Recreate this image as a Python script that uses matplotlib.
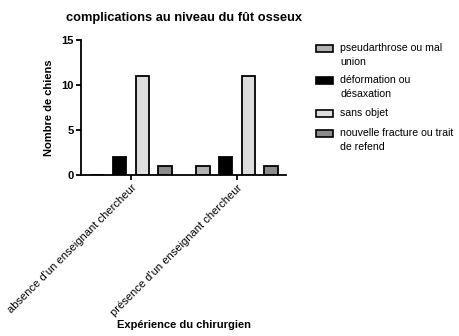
import numpy as np
import matplotlib
matplotlib.use('Agg')
import matplotlib.pyplot as plt
from matplotlib.patches import Rectangle

plt.rcParams['font.family'] = ['Liberation Sans', 'DejaVu Sans']

groups = ["absence d'un enseignant chercheur", "présence d'un enseignant chercheur"]
series = ['pseudarthrose ou mal\nunion', 'déformation ou\ndésaxation', 'sans objet',
          'nouvelle fracture ou trait\nde refend']
values = [
    [0, 1],   # pseudarthrose ou mal union
    [2, 2],   # déformation ou désaxation
    [11, 11], # sans objet
    [1, 1],   # nouvelle fracture ou trait de refend
]
colors = ['#b2b2b2', '#000000', '#dddddd', '#8c8c8c']

W, H = 460, 336


def fx(px):
    return px / W


def fy(py):
    return 1 - py / H


fig = plt.figure(figsize=(4.6, 3.36), dpi=100)
ax = fig.add_axes([fx(81.5), fy(175), (286.5 - 81.5) / W, (175 - 39.5) / H])

x = np.arange(len(groups))
step = 0.214
width = 0.125
for i, vals in enumerate(values):
    off = (i - 1.5) * step
    ax.bar(x + off, vals, width, color=colors[i], edgecolor='black', linewidth=1.3)

ax.set_xlim(-0.467, 1.467)
ax.set_ylim(0, 15)
ax.set_yticks([0, 5, 10, 15])
ax.set_xticks(x)
ax.set_xticklabels(groups, rotation=45, ha='right', rotation_mode='anchor', fontsize=8)
for lab in ax.get_yticklabels():
    lab.set_fontweight('bold')
    lab.set_fontsize(8)
ax.spines['top'].set_visible(False)
ax.spines['right'].set_visible(False)
ax.spines['left'].set_linewidth(1.3)
ax.spines['bottom'].set_linewidth(1.3)
ax.tick_params(width=1.3, length=3.6, pad=2)

ax.set_ylabel('Nombre de chiens', fontweight='bold', fontsize=8)
ax.yaxis.set_label_coords((54 - 81.5) / 205, 0.5)

fig.text(fx(183.7), fy(18), 'complications au niveau du fût osseux', fontweight='bold',
         fontsize=9.3, ha='center', va='center')
fig.text(fx(183.6), fy(325), 'Expérience du chirurgien', fontweight='bold', fontsize=8,
         ha='center', va='center')

# legend, patch beside the first line of each label
first_lines = [48.5, 80.5, 113.5, 133.5]
for i, name in enumerate(series):
    yc = first_lines[i]
    fig.add_artist(Rectangle((fx(316), fy(yc + 3.5)), 17 / W, 7 / H, transform=fig.transFigure,
                             facecolor=colors[i], edgecolor='black', linewidth=1.2))
    fig.text(fx(340.5), fy(yc - 5.5), name, fontsize=7.6, ha='left', va='top', linespacing=1.45)

fig.savefig('out.png', dpi=100)
